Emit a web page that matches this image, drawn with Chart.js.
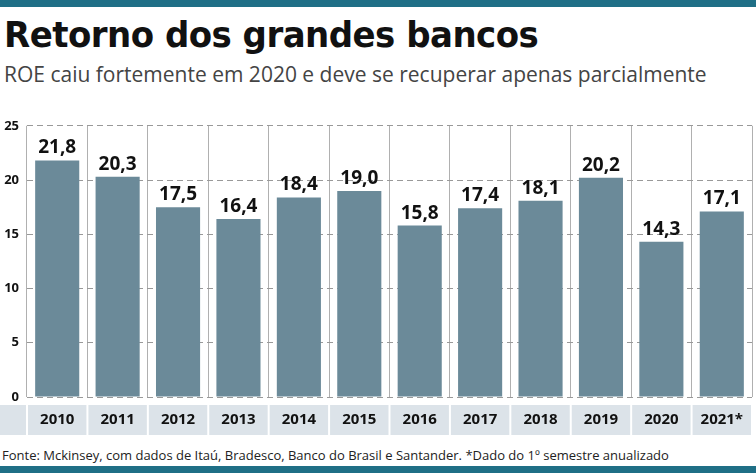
<!DOCTYPE html>
<html>
<head>
<meta charset="utf-8">
<script src="https://cdn.jsdelivr.net/npm/chart.js@4"></script>
<style>
  body { margin: 0; width: 756px; height: 473px; background: #fff; position: relative; overflow: hidden; font-family: "Open Sans", sans-serif; }
  .bar { position: absolute; left: 0; width: 756px; height: 7px; background: #1f6f86; }
  #title { position: absolute; left: 4px; top: 14px; font: bold 36px "Liberation Sans Narrow", "DejaVu Sans Condensed", sans-serif; color: #111; letter-spacing: -0.5px; transform: scaleX(1.05); transform-origin: left; }
  #sub { position: absolute; left: 4px; top: 60px; font-size: 21px; color: #444; white-space: nowrap; }
  #src { position: absolute; left: 2px; top: 446px; font-size: 13px; color: #222; white-space: nowrap; }
  #wrap { position: absolute; left: 0; top: 110px; width: 756px; height: 330px; }
</style>
</head>
<body>
<div class="bar" style="top:0"></div>
<div id="title">Retorno dos grandes bancos</div>
<div id="sub">ROE caiu fortemente em 2020 e deve se recuperar apenas parcialmente</div>
<div id="wrap"><canvas id="c"></canvas></div>
<div id="src">Fonte: Mckinsey, com dados de Itaú, Bradesco, Banco do Brasil e Santander. *Dado do 1º semestre anualizado</div>
<div class="bar" style="top:466px"></div>
<script>
const years = ['2010','2011','2012','2013','2014','2015','2016','2017','2018','2019','2020','2021*'];
const roe = [21.8, 20.3, 17.5, 16.4, 18.4, 19.0, 15.8, 17.4, 18.1, 20.2, 14.3, 17.1];
const yTicks = [0, 5, 10, 15, 20, 25];

const extras = {
  id: 'extras',
  afterDraw(chart) {
    const ctx = chart.ctx, x = chart.scales.x, area = chart.chartArea;
    const step = (area.right - area.left) / years.length;
    ctx.save();
    // label band
    ctx.fillStyle = '#dce3e9';
    ctx.fillRect(0, area.bottom + 8, area.left - 1, 30);
    years.forEach((y, i) => {
      const l = area.left + i * step + 1, r = area.left + (i + 1) * step - 1;
      ctx.fillStyle = '#dce3e9';
      ctx.fillRect(l, area.bottom + 8, r - l, 30);
      ctx.fillStyle = '#111';
      ctx.font = 'bold 15px "Open Sans", sans-serif';
      ctx.textAlign = 'center';
      ctx.textBaseline = 'middle';
      ctx.fillText(y, x.getPixelForValue(i), area.bottom + 23);
    });
    // value labels
    const meta = chart.getDatasetMeta(0);
    ctx.font = 'bold 19px "Open Sans", sans-serif';
    ctx.textBaseline = 'bottom';
    meta.data.forEach((b, i) => {
      ctx.fillText(roe[i].toFixed(1).replace('.', ','), b.x, b.y - 3);
    });
    ctx.restore();
  }
};

new Chart(document.getElementById('c'), {
  type: 'bar',
  data: { labels: years, datasets: [{ data: roe, backgroundColor: '#6b8a99', barPercentage: 1, categoryPercentage: 0.73 }] },
  options: {
    responsive: true, maintainAspectRatio: false, animation: false,
    layout: { padding: { left: 0, right: 4, top: 14, bottom: 43 } },
    plugins: { legend: { display: false }, tooltip: { enabled: false } },
    scales: {
      x: {
        offset: true,
        ticks: { display: false },
        grid: { offset: true, color: '#b0b0b0', drawTicks: false },
        border: { display: false }
      },
      y: {
        min: 0, max: 25,
        afterBuildTicks: s => { s.ticks = yTicks.map(v => ({ value: v })); },
        afterFit: s => { s.width = 27; },
        ticks: { color: '#111', font: { weight: 'bold', size: 13, family: '"Open Sans", sans-serif' }, padding: 8 },
        grid: { color: '#999', drawTicks: false },
        border: { display: false, dash: [6, 4] }
      }
    }
  },
  plugins: [extras]
});
</script>
</body>
</html>
